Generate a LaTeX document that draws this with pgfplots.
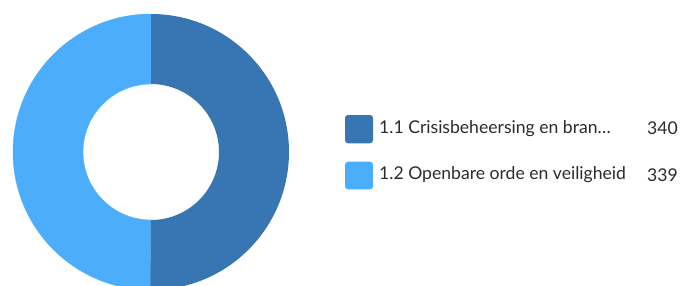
\documentclass[border=0pt]{standalone}
\usepackage{pgfplots}
\pgfplotsset{compat=1.18}
\usepackage{pgfplotstable}
\usepackage{fontspec}
\setmainfont{Lato}
\definecolor{darkblue}{HTML}{3776B2}
\definecolor{lightblue}{HTML}{4DADFD}
\definecolor{txt}{HTML}{2B2B2B}
\pgfplotstableread{
value
340
339
}\datatable
\begin{document}
\begin{tikzpicture}
\useasboundingbox (0,0) rectangle (680pt,285pt);
\pgfplotstablegetelem{0}{value}\of\datatable \let\va\pgfplotsretval
\pgfplotstablegetelem{1}{value}\of\datatable \let\vb\pgfplotsretval
\pgfmathsetmacro{\total}{\va+\vb}
\pgfmathsetmacro{\frac}{\va/\total}
\pgfmathsetmacro{\angA}{90-360*\frac}
\pgfmathsetmacro{\ix}{151+68*cos(\angA)}
\pgfmathsetmacro{\iy}{133+68*sin(\angA)}
\pgfmathsetmacro{\ox}{151+138*cos(\angA)}
\pgfmathsetmacro{\oy}{133+138*sin(\angA)}
\begin{axis}[at={(0,0)}, anchor=south west, scale only axis, width=680pt, height=285pt,
  xmin=0, xmax=680, ymin=0, ymax=285, hide axis, clip=true]
\filldraw[lightblue, line width=0.4pt] (axis cs:\ox,\oy) arc[start angle=\angA, end angle=-270, radius=138pt]
  -- (axis cs:151,201) arc[start angle=-270, end angle=\angA, radius=68pt] -- cycle;
\fill[darkblue] (axis cs:151,271) arc[start angle=90, end angle=\angA, radius=138pt]
  -- (axis cs:\ix,\iy) arc[start angle=\angA, end angle=90, radius=68pt] -- cycle;
\fill[darkblue, rounded corners=3pt] (axis cs:345,170) rectangle (axis cs:373,141.7);
\fill[lightblue, rounded corners=3pt] (axis cs:345,123.3) rectangle (axis cs:373,95.7);
\node[anchor=west, text=txt, font=\fontsize{17.6}{21}\selectfont, inner sep=0pt] at (axis cs:379,156.5) {1.1 Crisisbeheersing en bran…};
\node[anchor=east, text=txt, font=\fontsize{17.6}{21}\selectfont, inner sep=0pt] at (axis cs:678,156.5) {340};
\node[anchor=west, text=txt, font=\fontsize{17.6}{21}\selectfont, inner sep=0pt] at (axis cs:379,110) {1.2 Openbare orde en veiligheid};
\node[anchor=east, text=txt, font=\fontsize{17.6}{21}\selectfont, inner sep=0pt] at (axis cs:678,110) {339};
\end{axis}
\end{tikzpicture}
\end{document}
